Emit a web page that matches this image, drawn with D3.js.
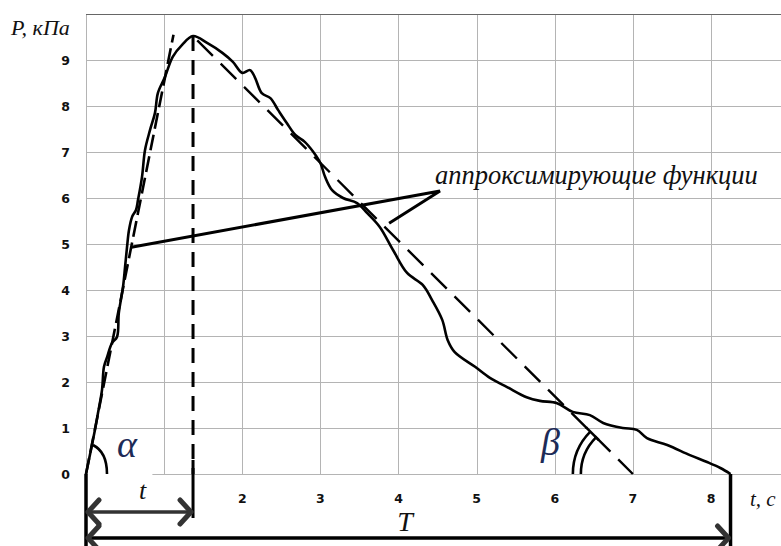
<!DOCTYPE html>
<html>
<head>
<meta charset="utf-8">
<script src="https://cdn.jsdelivr.net/npm/d3@7"></script>
<style>
  body { margin: 0; background: #fff; }
  svg { display: block; }
</style>
</head>
<body>
<svg id="chart" width="781" height="546"></svg>
<script>
// measured pressure curve, t in seconds, P in kPa
const tData = [0, 0.115, 0.154, 0.205, 0.23, 0.27, 0.333, 0.397, 0.42, 0.474, 0.5, 0.525, 0.55, 0.59, 0.64, 0.666,
  0.717, 0.755, 0.82, 0.883, 0.92, 1.01, 1.11, 1.23, 1.37, 1.55, 1.75, 1.88, 2.0, 2.1, 2.16, 2.25, 2.36, 2.46,
  2.57, 2.68, 2.8, 2.91, 3.0, 3.06, 3.15, 3.29, 3.47, 3.6, 3.76, 3.93, 4.11, 4.31, 4.43, 4.56, 4.63, 4.72,
  4.98, 5.17, 5.39, 5.64, 5.81, 6.03, 6.23, 6.45, 6.62, 6.87, 7.05, 7.18, 7.44, 7.73, 7.95, 8.12, 8.25];
const pData = [0, 0.96, 1.33, 1.83, 2.33, 2.54, 2.85, 2.98, 3.5, 4.07, 4.5, 4.93, 5.3, 5.59, 5.74, 5.96,
  6.46, 7.04, 7.48, 7.85, 8.28, 8.63, 9.07, 9.33, 9.52, 9.37, 9.15, 8.96, 8.72, 8.78, 8.63, 8.28, 8.17, 7.91,
  7.63, 7.37, 7.22, 7.0, 6.76, 6.46, 6.17, 6.0, 5.89, 5.67, 5.37, 4.87, 4.37, 4.11, 3.78, 3.35, 2.91, 2.65,
  2.33, 2.09, 1.89, 1.67, 1.59, 1.54, 1.35, 1.28, 1.11, 1.0, 0.96, 0.78, 0.63, 0.41, 0.26, 0.13, 0];

// approximating straight lines
const riseLine = [[0, 0], [1.12, 9.55]];
const fallLine = [[1.37, 9.52], [7.0, 0]];
const tPeak = 1.37;
const tEnd = 8.25;

const yTicks = [0, 1, 2, 3, 4, 5, 6, 7, 8, 9];
const xTickLabels = [2, 3, 4, 5, 6, 7, 8];
const xGrid = [1, 2, 3, 4, 5, 6, 7, 8];
const yGrid = [1, 2, 3, 4, 5, 6, 7, 8, 9];

const SERIF = '"Liberation Serif", "DejaVu Serif", "Times New Roman", serif';
const SANS = '"DejaVu Sans", "Liberation Sans", Arial, sans-serif';

const svg = d3.select("#chart");
const x = d3.scaleLinear().domain([0, 8.9]).range([86, 781.3]);
const y = d3.scaleLinear().domain([0, 10]).range([474, 14]);

function italic(sel, size) {
  return sel.style("font-family", SERIF).style("font-style", "italic")
    .style("font-size", size + "px").style("fill", "#111");
}
function tickText(sel) {
  return sel.style("font-family", SANS).style("font-weight", "bold")
    .style("font-size", "12.5px").style("fill", "#111");
}

// grid
const grid = svg.append("g").attr("stroke", "#b4b4b4").attr("stroke-width", 1);
grid.selectAll("line.v").data(xGrid).join("line")
  .attr("x1", d => Math.round(x(d)) + 0.5).attr("x2", d => Math.round(x(d)) + 0.5)
  .attr("y1", y(10)).attr("y2", y(0));
grid.selectAll("line.h").data(yGrid).join("line")
  .attr("x1", x(0)).attr("x2", x(8.9))
  .attr("y1", d => Math.round(y(d)) + 0.5).attr("y2", d => Math.round(y(d)) + 0.5);
grid.append("line").attr("x1", x(0.85)).attr("x2", x(8.9)).attr("y1", y(0) + 0.5).attr("y2", y(0) + 0.5);
grid.append("line").attr("x1", x(0) + 0.5).attr("x2", x(0) + 0.5).attr("y1", y(10)).attr("y2", y(0));
svg.append("line").attr("x1", x(0)).attr("x2", x(8.9)).attr("y1", y(10) + 0.5).attr("y2", y(10) + 0.5)
  .attr("stroke", "#666").attr("stroke-width", 1.2);

// tick labels
svg.selectAll("text.yl").data(yTicks).join("text")
  .attr("x", 70).attr("y", d => y(d) + 4.5)
  .attr("text-anchor", "end").text(d => d).call(tickText);
svg.selectAll("text.xl").data(xTickLabels).join("text")
  .attr("x", d => x(d)).attr("y", 503)
  .attr("text-anchor", "middle").text(d => d).call(tickText);

svg.append("text").attr("x", 11).attr("y", 35).text("P, кПа").call(italic, 22);
svg.append("text").attr("x", 750).attr("y", 506).text("t, c").call(italic, 21);

// measured curve
const line = d3.line().x(d => x(d[0])).y(d => y(d[1])).curve(d3.curveCatmullRom.alpha(0.5));
svg.append("path").datum(tData.map((t, i) => [t, pData[i]]))
  .attr("d", line).attr("fill", "none").attr("stroke", "#000").attr("stroke-width", 2.6)
  .attr("stroke-linejoin", "round");

// approximations
const straight = d3.line().x(d => x(d[0])).y(d => y(d[1]));
svg.append("path").datum(riseLine).attr("d", straight).attr("fill", "none")
  .attr("stroke", "#000").attr("stroke-width", 2.6).attr("stroke-dasharray", "16,6");
svg.append("path").datum(fallLine).attr("d", straight).attr("fill", "none")
  .attr("stroke", "#000").attr("stroke-width", 2.4).attr("stroke-dasharray", "22,11")
  .attr("stroke-dashoffset", -6);

// peak vertical
svg.append("line").attr("x1", x(tPeak)).attr("x2", x(tPeak)).attr("y1", y(9.52)).attr("y2", y(0))
  .attr("stroke", "#000").attr("stroke-width", 3).attr("stroke-dasharray", "15,9");
svg.append("line").attr("x1", x(tPeak)).attr("x2", x(tPeak)).attr("y1", 460).attr("y2", 518)
  .attr("stroke", "#000").attr("stroke-width", 3);

// boundaries below axis
svg.append("line").attr("x1", x(0)).attr("x2", x(0)).attr("y1", y(0)).attr("y2", 546)
  .attr("stroke", "#000").attr("stroke-width", 3.5);
svg.append("line").attr("x1", x(tEnd)).attr("x2", x(tEnd)).attr("y1", y(0)).attr("y2", 546)
  .attr("stroke", "#000").attr("stroke-width", 3.5);

// double arrows
function dblArrow(x0, x1, yy, col) {
  const g = svg.append("g").attr("fill", "none").attr("stroke-linecap", "round").attr("stroke-linejoin", "round");
  g.append("line").attr("x1", x0 + 2).attr("x2", x1 - 2).attr("y1", yy).attr("y2", yy)
    .attr("stroke", col).attr("stroke-width", 3.5);
  g.append("path").attr("d", `M${x0 + 13},${yy - 12} L${x0 + 2},${yy} L${x0 + 13},${yy + 12}`)
    .attr("stroke", "#333").attr("stroke-width", 5);
  g.append("path").attr("d", `M${x1 - 13},${yy - 12} L${x1 - 2},${yy} L${x1 - 13},${yy + 12}`)
    .attr("stroke", "#333").attr("stroke-width", 5);
}
dblArrow(x(0), x(tPeak), 512, "#333");
dblArrow(x(0), x(tEnd), 538, "#000");
svg.append("text").attr("x", (x(0) + x(tPeak)) / 2 + 3).attr("y", 499)
  .attr("text-anchor", "middle").text("t").call(italic, 26);
svg.append("text").attr("x", 405).attr("y", 531)
  .attr("text-anchor", "middle").text("T").call(italic, 28);

// angle marks
const ox = x(0), oy = y(0);
svg.append("path").attr("d", `M${ox + 7},${oy - 29} Q${ox + 21},${oy - 22} ${ox + 21},${oy}`)
  .attr("fill", "none").attr("stroke", "#000").attr("stroke-width", 2.6);
const bx = x(fallLine[1][0]), by = y(0);
const ang = Math.atan2(y(fallLine[0][1]) - by, x(fallLine[0][0]) - bx);
[52, 60].forEach(r => {
  svg.append("path")
    .attr("d", `M${bx - r},${by} A${r},${r} 0 0 1 ${bx + r * Math.cos(ang)},${by + r * Math.sin(ang)}`)
    .attr("fill", "none").attr("stroke", "#000").attr("stroke-width", 2.6);
});
svg.append("line").attr("x1", bx + 48 * Math.cos(ang)).attr("y1", by + 48 * Math.sin(ang))
  .attr("x2", bx + 66 * Math.cos(ang)).attr("y2", by + 66 * Math.sin(ang))
  .attr("stroke", "#000").attr("stroke-width", 2.6);
svg.append("text").attr("x", 117).attr("y", 457).text("α").call(italic, 38).style("fill", "#1d2b57");
svg.append("text").attr("x", 541).attr("y", 455).text("β").call(italic, 38).style("fill", "#1d2b57");

// callout
const apex = [440, 191];
svg.append("path").attr("d", `M${x(0.58)},${y(4.93)} L${apex[0]},${apex[1]} L${x(3.88)},${y(5.45)}`)
  .attr("fill", "none").attr("stroke", "#000").attr("stroke-width", 3).attr("stroke-linejoin", "miter");
svg.append("text").attr("x", 435).attr("y", 184).text("аппроксимирующие функции").call(italic, 26.5);
</script>
</body>
</html>
